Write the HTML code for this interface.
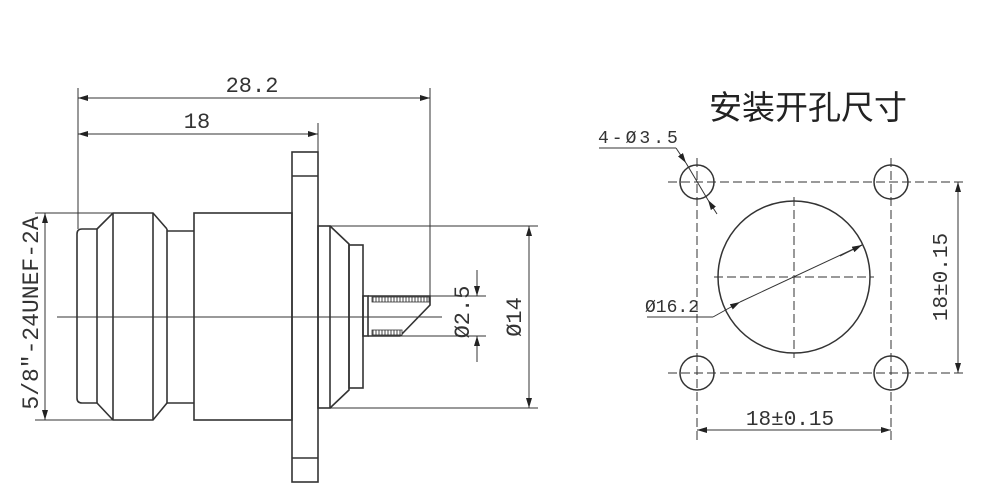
<!DOCTYPE html>
<html><head><meta charset="utf-8"><style>
html,body{margin:0;padding:0;background:#fff;}
svg{display:block}
text{font-family:"Liberation Mono","DejaVu Sans Mono",monospace;fill:#333;}
</style></head><body>
<svg width="1000" height="500" viewBox="0 0 1000 500" xmlns="http://www.w3.org/2000/svg">
<defs>
<marker id="a" viewBox="0 0 10 6" refX="10" refY="3" markerWidth="10" markerHeight="6" orient="auto-start-reverse" markerUnits="userSpaceOnUse"><path d="M0,0L10,3L0,6z" fill="#222"/></marker>
<pattern id="h" width="3" height="6" patternUnits="userSpaceOnUse"><rect width="3" height="6" fill="#fff"/><line x1="1" y1="0" x2="1" y2="6" stroke="#444" stroke-width="1"/></pattern>
</defs>
<g stroke="#333" stroke-width="1.6" fill="none">
<path d="M97,229 H82 Q77,229 77,234 V398 Q77,403 82,403 H97"/>
<line x1="97" y1="229" x2="97" y2="403"/>
<path d="M97,229 L113,213 H153 L167,229 M97,403 L113,420 H153 L167,403"/>
<line x1="113" y1="213" x2="113" y2="420"/>
<line x1="153" y1="213" x2="153" y2="420"/>
<line x1="167" y1="229" x2="167" y2="403"/>
<path d="M167,231 H194 M167,403 H194"/>
<rect x="194" y="213" width="98" height="207"/>
<rect x="292" y="152" width="26" height="330"/>
<path d="M292,176 H318 M292,458 H318"/>
<rect x="318" y="226" width="12" height="182"/>
<path d="M330,226 L349,244 V390 L330,408"/>
<rect x="349" y="245" width="14" height="143"/>
<rect x="363" y="296" width="5" height="40"/>
<path d="M368,296 H430 V305 L400,336 H368"/>
<rect x="372" y="297" width="57" height="5" fill="url(#h)" stroke-width="0.8"/>
<rect x="372" y="330" width="30" height="5" fill="url(#h)" stroke-width="0.8"/>
</g>
<g stroke="#333" stroke-width="1" fill="none">
<line x1="57" y1="317" x2="442" y2="317"/>
<line x1="78" y1="88" x2="78" y2="229"/>
<line x1="430" y1="88" x2="430" y2="300"/>
<line x1="318" y1="123" x2="318" y2="152"/>
<line x1="78" y1="98" x2="430" y2="98" marker-start="url(#a)" marker-end="url(#a)"/>
<line x1="78" y1="134" x2="318" y2="134" marker-start="url(#a)" marker-end="url(#a)"/>
<line x1="35" y1="213" x2="113" y2="213"/>
<line x1="35" y1="420" x2="113" y2="420"/>
<line x1="45" y1="213" x2="45" y2="420" marker-start="url(#a)" marker-end="url(#a)"/>
<line x1="330" y1="226" x2="538" y2="226"/>
<line x1="330" y1="408" x2="538" y2="408"/>
<line x1="529" y1="226" x2="529" y2="408" marker-start="url(#a)" marker-end="url(#a)"/>
<line x1="430" y1="296" x2="486" y2="296"/>
<line x1="400" y1="336" x2="486" y2="336"/>
<line x1="477" y1="270" x2="477" y2="296" marker-end="url(#a)"/>
<line x1="477" y1="362" x2="477" y2="336" marker-end="url(#a)"/>
</g>
<text x="252" y="92" font-size="22" text-anchor="middle">28.2</text>
<text x="197" y="128" font-size="22" text-anchor="middle">18</text>
<text transform="translate(38,313) rotate(-90)" font-size="23" text-anchor="middle">5/8″-24UNEF-2A</text>
<text transform="translate(469,312) rotate(-90)" font-size="22" text-anchor="middle">Ø2.5</text>
<text transform="translate(521,317) rotate(-90)" font-size="22" text-anchor="middle">Ø14</text>

<text x="808" y="119" font-size="33" text-anchor="middle" style="font-family:'Liberation Sans','Noto Sans CJK SC',sans-serif;fill:#222">安装开孔尺寸</text>
<g stroke="#333" stroke-width="1" fill="none" stroke-dasharray="9,4">
<line x1="668" y1="182" x2="965" y2="182"/>
<line x1="668" y1="373" x2="965" y2="373"/>
<line x1="697" y1="158" x2="697" y2="440"/>
<line x1="891" y1="158" x2="891" y2="440"/>
<line x1="714" y1="277" x2="874" y2="277"/>
<line x1="794" y1="197" x2="794" y2="358"/>
</g>
<g stroke="#333" stroke-width="1.5" fill="none">
<circle cx="697" cy="182" r="17"/>
<circle cx="891" cy="182" r="17"/>
<circle cx="697" cy="373" r="17"/>
<circle cx="891" cy="373" r="17"/>
<circle cx="794" cy="277" r="76"/>
</g>
<g stroke="#333" stroke-width="1" fill="none">
<line x1="958" y1="182" x2="958" y2="373" marker-start="url(#a)" marker-end="url(#a)"/>
<line x1="697" y1="430" x2="891" y2="430" marker-start="url(#a)" marker-end="url(#a)"/>
<path d="M599,148 H676"/>
<line x1="676" y1="148" x2="686" y2="163" marker-end="url(#a)"/>
<line x1="717" y1="214" x2="708" y2="200" marker-end="url(#a)"/>
<line x1="686" y1="163" x2="708" y2="200"/>
<path d="M647,317 H713"/>
<line x1="713" y1="317" x2="740" y2="302" marker-end="url(#a)"/>
<line x1="740" y1="302" x2="862" y2="245"/>
<line x1="840" y1="256" x2="862" y2="245" marker-end="url(#a)"/>
</g>
<text x="598" y="143" font-size="18" letter-spacing="3">4-Ø3.5</text>
<text x="645" y="312" font-size="18">Ø16.2</text>
<text x="790" y="425" font-size="21" text-anchor="middle">18±0.15</text>
<text transform="translate(947,277) rotate(-90)" font-size="21" text-anchor="middle">18±0.15</text>
</svg>
</body></html>
